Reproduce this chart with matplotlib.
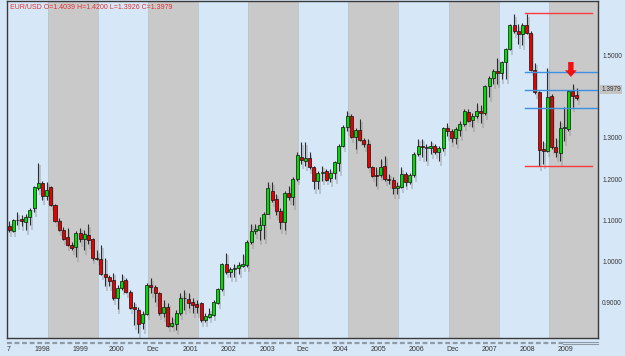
import numpy as np
import matplotlib.pyplot as plt
import matplotlib.transforms as mtransforms
from matplotlib.patches import Rectangle, FancyArrow
from matplotlib.lines import Line2D

# === DATA (monthly EUR/USD candles) ===
OPEN = [1.0873, 1.0744, 1.1000, 1.1042, 1.0961, 1.1082, 1.1308, 1.1783, 1.1911, 1.1581,
        1.1815, 1.1380, 1.0977, 1.0760, 1.0591, 1.0414, 1.0357, 1.0704, 1.0551, 1.0655,
        1.0551, 1.0100, 1.0060, 0.9705, 0.9633, 0.9544, 0.9109, 0.9351, 0.9552, 0.9262,
        0.8892, 0.8828, 0.8505, 0.8731, 0.9424, 0.9375, 0.9230, 0.8763, 0.8892, 0.8442,
        0.8489, 0.8747, 0.9109, 0.9093, 0.9013, 0.8973, 0.9005, 0.8586, 0.8667, 0.8707,
        0.9005, 0.9327, 0.9939, 0.9754, 0.9826, 0.9858, 0.9898, 0.9915, 1.0478, 1.0744,
        1.0776, 1.0897, 1.1162, 1.1710, 1.1509, 1.1227, 1.0961, 1.1662, 1.1565, 1.2008,
        1.2531, 1.2451, 1.2515, 1.2290, 1.1968, 1.2160, 1.2193, 1.2032, 1.2153, 1.2395,
        1.2813, 1.3272, 1.3538, 1.3031, 1.3192, 1.2950, 1.2854, 1.2290, 1.2097, 1.2097,
        1.2314, 1.2016, 1.1984, 1.1791, 1.1807, 1.2129, 1.1928, 1.2105, 1.2612, 1.2797,
        1.2765, 1.2749, 1.2797, 1.2652, 1.2757, 1.3240, 1.3176, 1.2999, 1.3192, 1.3337,
        1.3635, 1.3433, 1.3522, 1.3659, 1.3595, 1.4255, 1.4448, 1.4625, 1.4569, 1.4842,
        1.5149, 1.5728, 1.5591, 1.5527, 1.5736, 1.5551, 1.4649, 1.4102, 1.2733, 1.2693,
        1.4021, 1.2773, 1.2628, 1.3240, 1.3216, 1.4126, 1.4039]
HIGH = [1.0977, 1.1042, 1.1203, 1.1122, 1.1163, 1.1308, 1.1839, 1.2394, 1.1968, 1.1944,
        1.1847, 1.1404, 1.1066, 1.0840, 1.0824, 1.0486, 1.0744, 1.0824, 1.0760, 1.0905,
        1.0583, 1.0277, 1.0398, 1.0100, 0.9673, 0.9729, 0.9432, 0.9713, 0.9593, 0.9311,
        0.9029, 0.8908, 0.8812, 0.9472, 0.9593, 0.9432, 0.9270, 0.9069, 0.8989, 0.8667,
        0.8828, 0.9230, 0.9311, 0.9246, 0.9109, 0.9069, 0.9029, 0.8747, 0.8868, 0.9069,
        0.9351, 0.9971, 1.0213, 0.9874, 0.9955, 0.9995, 1.0196, 1.0518, 1.0921, 1.0921,
        1.1082, 1.1203, 1.1927, 1.1927, 1.1646, 1.1307, 1.1710, 1.1847, 1.2048, 1.2652,
        1.2894, 1.2894, 1.2652, 1.2330, 1.2193, 1.2330, 1.2250, 1.2250, 1.2451, 1.2854,
        1.3321, 1.3659, 1.3578, 1.3240, 1.3457, 1.2999, 1.2974, 1.2330, 1.2290, 1.2491,
        1.2572, 1.2129, 1.2048, 1.1928, 1.2290, 1.2169, 1.2145, 1.2652, 1.2974, 1.2974,
        1.2854, 1.2934, 1.2854, 1.2813, 1.3272, 1.3353, 1.3216, 1.3256, 1.3401, 1.3691,
        1.3699, 1.3594, 1.3844, 1.3804, 1.4287, 1.4504, 1.4665, 1.4947, 1.4867, 1.5189,
        1.5752, 1.5994, 1.5752, 1.5793, 1.5994, 1.5591, 1.4826, 1.4142, 1.2934, 1.4706,
        1.4062, 1.2999, 1.3417, 1.3739, 1.4158, 1.4319, 1.4200]
LOW = [1.0720, 1.0720, 1.0881, 1.0857, 1.0776, 1.0897, 1.1203, 1.1726, 1.1485, 1.1485,
       1.1340, 1.0953, 1.0736, 1.0535, 1.0382, 1.0277, 1.0116, 1.0478, 1.0277, 1.0438,
       1.0052, 1.0035, 0.9673, 0.9415, 0.9415, 0.9069, 0.8860, 0.9311, 0.9230, 0.8852,
       0.8465, 0.8264, 0.8369, 0.8707, 0.9230, 0.9029, 0.8707, 0.8667, 0.8425, 0.8425,
       0.8344, 0.8707, 0.8828, 0.8868, 0.8747, 0.8747, 0.8546, 0.8546, 0.8626, 0.8683,
       0.8973, 0.9295, 0.9713, 0.9633, 0.9633, 0.9713, 0.9874, 0.9874, 1.0438, 1.0680,
       1.0518, 1.0559, 1.1146, 1.1444, 1.1122, 1.0800, 1.0760, 1.1485, 1.1364, 1.1968,
       1.2370, 1.2330, 1.2250, 1.1767, 1.1767, 1.1968, 1.1968, 1.1928, 1.2008, 1.2209,
       1.2773, 1.3176, 1.2999, 1.2733, 1.2918, 1.2773, 1.2274, 1.2049, 1.1847, 1.2065,
       1.1952, 1.1887, 1.1646, 1.1646, 1.1791, 1.1847, 1.1887, 1.2048, 1.2572, 1.2532,
       1.2451, 1.2612, 1.2612, 1.2451, 1.2692, 1.3055, 1.2894, 1.2853, 1.3055, 1.3297,
       1.3377, 1.3256, 1.3482, 1.3353, 1.3562, 1.3997, 1.4303, 1.4319, 1.4424, 1.4424,
       1.5124, 1.5551, 1.5269, 1.5253, 1.5511, 1.4625, 1.4062, 1.2330, 1.2371, 1.2653,
       1.2733, 1.2532, 1.2451, 1.2934, 1.3176, 1.3739, 1.3926]
CLOSE = [1.0760, 1.1002, 1.1010, 1.0977, 1.1090, 1.1259, 1.1799, 1.1903, 1.1589, 1.1726,
         1.1364, 1.0977, 1.0768, 1.0559, 1.0406, 1.0333, 1.0704, 1.0551, 1.0663, 1.0535,
         1.0084, 1.0060, 0.9705, 0.9633, 0.9536, 0.9109, 0.9359, 0.9528, 0.9262, 0.8884,
         0.8844, 0.8489, 0.8731, 0.9432, 0.9375, 0.9230, 0.8747, 0.8892, 0.8449, 0.8514,
         0.8747, 0.9109, 0.9115, 0.8989, 0.8948, 0.8908, 0.8586, 0.8683, 0.8723, 0.9013,
         0.9327, 0.9939, 0.9754, 0.9818, 0.9858, 0.9915, 0.9939, 1.0478, 1.0744, 1.0800,
         1.0897, 1.1162, 1.1782, 1.1501, 1.1227, 1.0961, 1.1662, 1.1565, 1.2008, 1.2596,
         1.2467, 1.2515, 1.2306, 1.1968, 1.2153, 1.2169, 1.1984, 1.2153, 1.2411, 1.2813,
         1.3272, 1.3538, 1.3031, 1.3192, 1.2950, 1.2854, 1.2290, 1.2081, 1.2089, 1.2306,
         1.1997, 1.1984, 1.1791, 1.1847, 1.2129, 1.1928, 1.2105, 1.2612, 1.2813, 1.2789,
         1.2769, 1.2813, 1.2652, 1.2757, 1.3240, 1.3176, 1.2999, 1.3216, 1.3337, 1.3643,
         1.3417, 1.3538, 1.3643, 1.3603, 1.4255, 1.4448, 1.4625, 1.4569, 1.4842, 1.5149,
         1.5728, 1.5591, 1.5527, 1.5728, 1.5551, 1.4649, 1.4102, 1.2717, 1.2677, 1.3981,
         1.2773, 1.2653, 1.3240, 1.3245, 1.4142, 1.4021, 1.3979]

TITLE = "EUR/USD O=1.4039 H=1.4200 L=1.3926 C=1.3979"
LAST_PRICE = "1.3979"
Y_TICKS = [0.9, 1.0, 1.1, 1.2, 1.3, 1.5]
X_LABELS = ["7", "1998", "1999", "2000", "Dec", "2001", "2002", "2003", "Dec",
            "2004", "2005", "2006", "Dec", "2007", "2008", "2009"]
RED_LEVELS = [1.602, 1.231]
BLUE_LEVELS = [1.460, 1.417, 1.373]

# === STYLE / LAYOUT ===
BG_BLUE = "#d6e7f8"
BG_GRAY = "#c9c9c9"
X_LABEL_POS = [-0.2, 7.9, 17.0, 25.6, 34.5, 43.4, 52.5, 61.8, 70.4,
               79.3, 88.4, 97.5, 106.3, 115.0, 124.1, 133.2]
BAND_START, BAND_STEP = 9.3, 12.0
XMIN, XMAX = -0.5, 141.1
YMIN, YMAX = 0.815, 1.632

plt.rcParams['font.family'] = ["Liberation Sans", "DejaVu Sans"]

fig = plt.figure(figsize=(6.25, 3.56), dpi=100, facecolor=BG_BLUE)
ax = fig.add_axes([7 / 625, 18 / 356, 591 / 625, 337 / 356])
ax.set_facecolor(BG_BLUE)
ax.set_xlim(XMIN, XMAX)
ax.set_ylim(YMIN, YMAX)

# alternating gray bands
b = BAND_START
while b < XMAX:
    ax.axvspan(b, min(b + BAND_STEP, XMAX), color=BG_GRAY, lw=0, zorder=0)
    ax.axvline(b, color="#b9c2cc", lw=0.6, zorder=0.5)
    ax.axvline(b + BAND_STEP, color="#b9c2cc", lw=0.6, zorder=0.5)
    b += 2 * BAND_STEP

# candles
x = np.arange(len(OPEN))
for i in x:
    o, h, l, c = OPEN[i], HIGH[i], LOW[i], CLOSE[i]
    # drop shadow
    ax.plot([i + 0.45, i + 0.45], [l - 0.012, h - 0.006], color="#8c8c8c",
            lw=1.2, alpha=0.45, zorder=1, solid_capstyle="butt")
    ax.plot([i, i], [l, h], color="#2e2e2e", lw=0.8, zorder=2, solid_capstyle="butt")
    col = "#00dc00" if c >= o else "#e80000"
    bot = min(o, c)
    hgt = max(abs(c - o), 0.002)
    ax.add_patch(Rectangle((i - 0.36, bot), 0.72, hgt, facecolor=col,
                           edgecolor="#111111", lw=0.5, zorder=3))

# support / resistance lines
for lv in RED_LEVELS:
    ax.plot([123.6, 139.6], [lv, lv], color="#ff3b3b", lw=1.0, zorder=4)
for lv in BLUE_LEVELS:
    ax.plot([123.6, XMAX], [lv, lv], color="#3d8fe0", lw=1.0, zorder=4)

# red arrow
ax.add_patch(FancyArrow(134.6, 1.484, 0, -0.036, width=1.3, head_width=2.8,
                        head_length=0.016, length_includes_head=True,
                        color="#f01010", lw=0, zorder=5))

# title
ax.text(0.005, 0.99, TITLE, transform=ax.transAxes, color="#e23030",
        fontsize=5.0, ha="left", va="top")

# right price axis
ax.yaxis.tick_right()
ax.set_yticks(Y_TICKS)
ax.set_yticklabels([f"{v:.4f}" for v in Y_TICKS])
ax.tick_params(axis="y", length=0, pad=3, labelsize=4.7, labelcolor="#333333")
trans = mtransforms.blended_transform_factory(ax.transAxes, ax.transData)
ax.text(1.0055, 1.418, LAST_PRICE, transform=trans, fontsize=4.7, color="#333333",
        ha="left", va="center",
        bbox=dict(boxstyle="square,pad=0.15", fc="#c4c4c4", ec="none"))

# bottom labels
ax.set_xticks(X_LABEL_POS)
ax.set_xticklabels(X_LABELS)
ax.tick_params(axis="x", length=0, pad=6, labelsize=5, labelcolor="#333333")

for s in ax.spines.values():
    s.set_color("#3a3a3a")
    s.set_linewidth(1.0)

# dashed strip under the chart
fig.add_artist(Line2D([7 / 625, 563 / 625], [1 - 343 / 356] * 2, color="#8e9aa6",
                      lw=1.6, dashes=(2.2, 1.2)))
fig.add_artist(Line2D([563 / 625, 598 / 625], [1 - 342 / 356] * 2, color="#8e9aa6",
                      lw=0.8))
fig.add_artist(Line2D([563 / 625, 598 / 625], [1 - 344 / 356] * 2, color="#8e9aa6",
                      lw=0.8))

plt.savefig("out.png", dpi=100, facecolor=BG_BLUE)
